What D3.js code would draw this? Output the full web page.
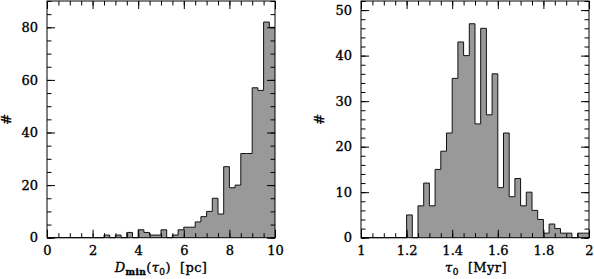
<!DOCTYPE html>
<html>
<head>
<meta charset="utf-8">
<script src="https://cdn.jsdelivr.net/npm/d3@7"></script>
<style>
  body { margin: 0; background: #fff; }
  svg text { font-family: "DejaVu Serif", serif; fill: #000; stroke: #000; stroke-width: 0.35px; }
</style>
</head>
<body>
<script>
let w = 594;
let h = 279;

// left panel: D_min(tau_0), bins of 0.25 pc (lower edges)
const dminBins = [0, 0.25, 0.5, 0.75, 1, 1.25, 1.5, 1.75, 2, 2.25,
  2.5, 2.75, 3, 3.25, 3.5, 3.75, 4, 4.25, 4.5, 4.75,
  5, 5.25, 5.5, 5.75, 6, 6.25, 6.5, 6.75, 7, 7.25,
  7.5, 7.75, 8, 8.25, 8.5, 8.75, 9, 9.25, 9.5, 9.75];
const dminCounts = [0, 0, 0, 0, 0, 0, 0, 0, 0, 0,
  1, 0, 1, 0, 2, 0, 3, 2, 1, 1,
  3, 0, 1, 3, 4, 4, 6, 8, 10, 15,
  9, 27, 19, 20, 32, 32, 57, 56, 82, 80];
const dminWidth = 0.25;
const dminTicks = [0, 2, 4, 6, 8, 10];
const dminCountTicks = [0, 20, 40, 60, 80];

// right panel: tau_0, bins of 0.025 Myr (lower edges)
const tauBins = [1, 1.025, 1.05, 1.075, 1.1, 1.125, 1.15, 1.175, 1.2, 1.225,
  1.25, 1.275, 1.3, 1.325, 1.35, 1.375, 1.4, 1.425, 1.45, 1.475,
  1.5, 1.525, 1.55, 1.575, 1.6, 1.625, 1.65, 1.675, 1.7, 1.725,
  1.75, 1.775, 1.8, 1.825, 1.85, 1.875, 1.9, 1.925, 1.95, 1.975];
const tauCounts = [0, 0, 0, 0, 0, 0, 0, 0, 5, 0,
  7, 12, 7, 15, 19, 23, 35, 43, 40, 47,
  25, 46, 27, 36, 11, 23, 9, 13, 7, 10,
  6, 4, 1, 3, 2, 1, 1, 0, 1, 1];
const tauWidth = 0.025;
const tauTicks = [1, 1.2, 1.4, 1.6, 1.8, 2];
const tauCountTicks = [0, 10, 20, 30, 40, 50];

let svg = d3.select("body").append("svg").attr("width", w).attr("height", h);

function drawPanel(cfg) {
  let x = d3.scaleLinear().domain(cfg.xDomain).range([cfg.left, cfg.right]);
  let y = d3.scaleLinear().domain(cfg.yDomain).range([cfg.bottom, cfg.top]);

  let pts = cfg.bins.map(function (b, i) {
    return [b, cfg.counts[i]];
  });
  pts.push([cfg.bins[cfg.bins.length - 1] + cfg.width, cfg.counts[cfg.counts.length - 1]]);

  let area = d3.area()
    .x(function (d) { return x(d[0]); })
    .y0(y(0))
    .y1(function (d) { return y(d[1]); })
    .curve(d3.curveStepAfter);
  let line = d3.line()
    .x(function (d) { return x(d[0]); })
    .y(function (d) { return y(d[1]); })
    .curve(d3.curveStepAfter);

  svg.append("path").attr("d", area(pts)).attr("fill", "#999999").attr("stroke", "none");
  svg.append("path").attr("d", line(pts)).attr("fill", "none")
    .attr("stroke", "#111").attr("stroke-width", 1);

  // frame
  svg.append("rect")
    .attr("x", cfg.left).attr("y", cfg.top)
    .attr("width", cfg.right - cfg.left).attr("height", cfg.bottom - cfg.top)
    .attr("fill", "none").attr("stroke", "#000").attr("stroke-width", 1);

  let xMinor = d3.range(cfg.xDomain[0], cfg.xDomain[1] + 1e-9, cfg.xMinorStep);
  let yMinor = d3.range(cfg.yDomain[0], cfg.yDomain[1] + 1e-9, cfg.yMinorStep);

  function addAxis(axis, tx, ty, labels) {
    let g = svg.append("g").attr("transform", "translate(" + tx + "," + ty + ")").call(axis);
    g.select(".domain").remove();
    g.selectAll("line").attr("stroke", "#000");
    if (!labels) g.selectAll("text").remove();
    return g;
  }

  // major ticks
  let gb = addAxis(d3.axisBottom(x).tickValues(cfg.xTicks).tickSize(-8).tickPadding(8).tickFormat(d3.format("")), 0, cfg.bottom, true);
  addAxis(d3.axisTop(x).tickValues(cfg.xTicks).tickSize(-8), 0, cfg.top, false);
  let gl = addAxis(d3.axisLeft(y).tickValues(cfg.yTicks).tickSize(-8).tickPadding(9), cfg.left, 0, true);
  addAxis(d3.axisRight(y).tickValues(cfg.yTicks).tickSize(-8), cfg.right, 0, false);

  // minor ticks
  addAxis(d3.axisBottom(x).tickValues(xMinor).tickSize(-4.5), 0, cfg.bottom, false);
  addAxis(d3.axisTop(x).tickValues(xMinor).tickSize(-4.5), 0, cfg.top, false);
  addAxis(d3.axisLeft(y).tickValues(yMinor).tickSize(-4.5), cfg.left, 0, false);
  addAxis(d3.axisRight(y).tickValues(yMinor).tickSize(-4.5), cfg.right, 0, false);

  gb.selectAll("text").attr("font-size", 13).attr("font-family", "DejaVu Serif");
  gl.selectAll("text").attr("font-size", 13).attr("font-family", "DejaVu Serif");

  // y title
  svg.append("text")
    .attr("transform", "translate(" + cfg.yTitleX + "," + (cfg.top + cfg.bottom) / 2 + ") rotate(-90)")
    .attr("text-anchor", "middle")
    .attr("font-size", 13)
    .text("#");

  return { x: x, y: y };
}

drawPanel({
  left: 47, right: 275, top: 1, bottom: 237.7,
  xDomain: [0, 10], yDomain: [0, 90],
  bins: dminBins, counts: dminCounts, width: dminWidth,
  xTicks: dminTicks, yTicks: dminCountTicks,
  xMinorStep: 0.5, yMinorStep: 5,
  yTitleX: 11
});

drawPanel({
  left: 361, right: 589, top: 1, bottom: 237.7,
  xDomain: [1, 2], yDomain: [0, 52],
  bins: tauBins, counts: tauCounts, width: tauWidth,
  xTicks: tauTicks, yTicks: tauCountTicks,
  xMinorStep: 0.05, yMinorStep: 2,
  yTitleX: 324
});

// x titles
let t1 = svg.append("text").attr("x", 161).attr("y", 272).attr("text-anchor", "middle")
  .attr("font-size", 13).attr("letter-spacing", 0.4);
t1.append("tspan").attr("font-style", "italic").text("D");
t1.append("tspan").attr("font-size", 9).attr("font-weight", "bold").attr("dy", 3).text("min");
t1.append("tspan").attr("dy", -3).text("(");
t1.append("tspan").attr("font-style", "italic").text("τ");
t1.append("tspan").attr("font-size", 9).attr("dy", 3).text("0");
t1.append("tspan").attr("dy", -3).text(")\u00a0\u00a0[pc]");

let t2 = svg.append("text").attr("x", 476).attr("y", 272).attr("text-anchor", "middle")
  .attr("font-size", 13).attr("letter-spacing", 0.4);
t2.append("tspan").attr("font-style", "italic").text("τ");
t2.append("tspan").attr("font-size", 9).attr("dy", 3).text("0");
t2.append("tspan").attr("dy", -3).text("\u00a0\u00a0[Myr]");
</script>
</body>
</html>
